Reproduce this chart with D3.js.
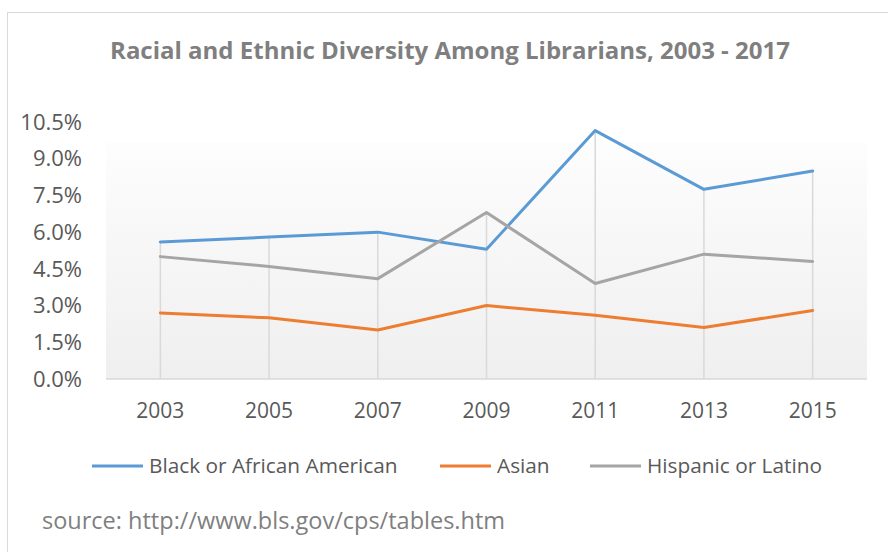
<!DOCTYPE html>
<meta charset="utf-8">
<style>
body { margin: 0; background: #fff; }
text { font-family: "Open Sans", sans-serif; }
</style>
<body>
<script src="https://d3js.org/d3.v7.min.js"></script>
<script>

var years = ["2003", "2005", "2007", "2009", "2011", "2013", "2015"];
var black = [5.6, 5.8, 6.0, 5.3, 10.15, 7.75, 8.5];
var asian = [2.7, 2.5, 2.0, 3.0, 2.6, 2.1, 2.8];
var hispanic = [5.0, 4.6, 4.1, 6.8, 3.9, 5.1, 4.8];
var yTicks = [0, 1.5, 3.0, 4.5, 6.0, 7.5, 9.0, 10.5];
var seriesNames = ["Black or African American", "Asian", "Hispanic or Latino"];
var seriesColors = ["#5b9bd5", "#ed7d31", "#a5a5a5"];

var width = 888, height = 552;

var svg = d3.select("body").append("svg")
    .attr("width", width)
    .attr("height", height);

// chart border
svg.append("rect")
    .attr("x", 7.5).attr("y", 12.5)
    .attr("width", 900).attr("height", 600)
    .attr("fill", "#fff")
    .attr("stroke", "#d9d9d9");

var x = d3.scaleBand()
    .domain(years)
    .range([106, 867]);

var y = d3.scaleLinear()
    .domain([0, 10.5])
    .range([379, 122]);

// plot area gradient
var grad = svg.append("defs").append("linearGradient")
    .attr("id", "bg")
    .attr("x1", 0).attr("y1", 0).attr("x2", 0).attr("y2", 1);
grad.append("stop").attr("offset", "0%").attr("stop-color", "#fdfdfd");
grad.append("stop").attr("offset", "100%").attr("stop-color", "#efefef");

svg.append("rect")
    .attr("x", 106).attr("y", 143)
    .attr("width", 761).attr("height", y(0) - 143)
    .attr("fill", "url(#bg)");

// title
svg.append("text")
    .attr("x", 450).attr("y", 59)
    .attr("text-anchor", "middle")
    .attr("font-size", "24px")
    .attr("font-weight", "bold")
    .attr("fill", "#7f7f7f")
    .text("Racial and Ethnic Diversity Among Librarians, 2003 - 2017");

// y axis labels
svg.append("g").selectAll("text")
  .data(yTicks)
  .enter().append("text")
    .attr("x", 82)
    .attr("y", function(d) { return y(d); })
    .attr("dy", "0.35em")
    .attr("text-anchor", "end")
    .attr("font-size", "22px")
    .attr("fill", "#595959")
    .text(function(d) { return d.toFixed(1) + "%"; });

var cx = function(d) { return x(d) + x.bandwidth() / 2; };

// drop lines
var tops = years.map(function(yr, i) { return Math.max(black[i], asian[i], hispanic[i]); });
svg.append("g").selectAll("line")
  .data(years)
  .enter().append("line")
    .attr("x1", cx).attr("x2", cx)
    .attr("y1", function(d, i) { return y(tops[i]); })
    .attr("y2", y(0))
    .attr("stroke", "#d9d9d9")
    .attr("stroke-width", 1.5);

// baseline
svg.append("line")
    .attr("x1", 106).attr("x2", 867)
    .attr("y1", y(0)).attr("y2", y(0))
    .attr("stroke", "#d9d9d9")
    .attr("stroke-width", 1.5);

// x labels
svg.append("g").selectAll("text")
  .data(years)
  .enter().append("text")
    .attr("x", cx)
    .attr("y", 418)
    .attr("text-anchor", "middle")
    .attr("font-size", "21px")
    .attr("fill", "#595959")
    .text(function(d) { return d; });

// series lines
var line = d3.line()
    .x(function(d, i) { return cx(years[i]); })
    .y(function(d) { return y(d); });

[black, asian, hispanic].forEach(function(s, k) {
  svg.append("path")
      .datum(s)
      .attr("d", line)
      .attr("fill", "none")
      .attr("stroke", seriesColors[k])
      .attr("stroke-width", 3)
      .attr("stroke-linejoin", "round")
      .attr("stroke-linecap", "round");
});

// legend
var legendX = [92, 440, 590];
var lg = svg.append("g").selectAll("g")
  .data(seriesNames)
  .enter().append("g")
    .attr("transform", function(d, i) { return "translate(" + legendX[i] + ",466)"; });
lg.append("line")
    .attr("x1", 0).attr("x2", 51)
    .attr("stroke", function(d, i) { return seriesColors[i]; })
    .attr("stroke-width", 3);
lg.append("text")
    .attr("x", 57).attr("y", 7)
    .attr("font-size", "20.8px")
    .attr("fill", "#595959")
    .text(function(d) { return d; });

// source
svg.append("text")
    .attr("x", 42).attr("y", 529)
    .attr("font-size", "23.5px")
    .attr("fill", "#7f7f7f")
    .text("source: http://www.bls.gov/cps/tables.htm");

</script>
</body>
